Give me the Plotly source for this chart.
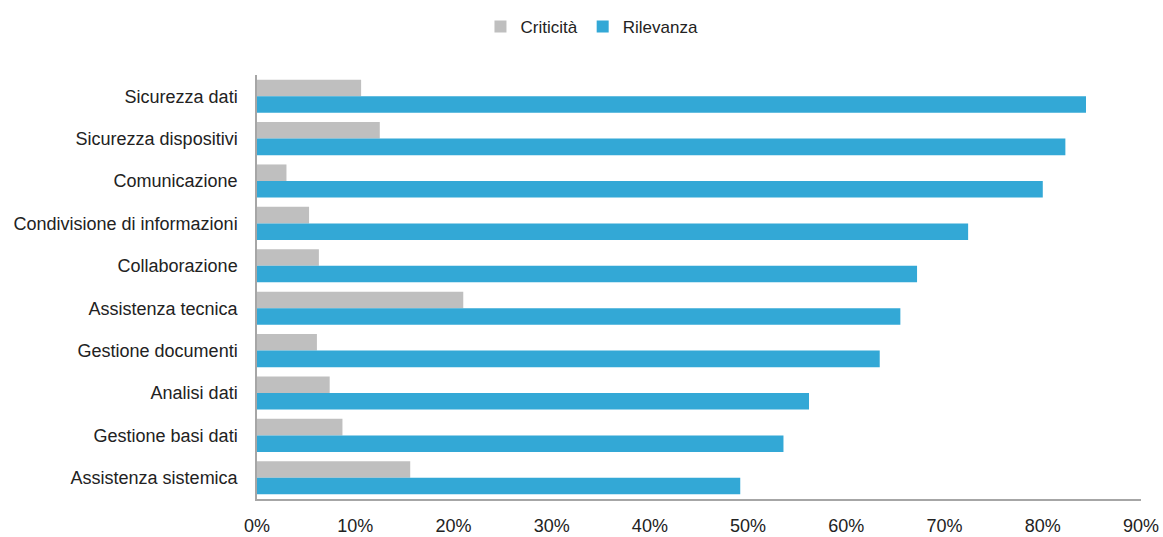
import plotly.graph_objects as go

# Categories, top to bottom as displayed
categorie = [
    "Sicurezza dati",
    "Sicurezza dispositivi",
    "Comunicazione",
    "Condivisione di informazioni",
    "Collaborazione",
    "Assistenza tecnica",
    "Gestione documenti",
    "Analisi dati",
    "Gestione basi dati",
    "Assistenza sistemica",
]

# Shares (fraction of respondents)
criticita = [0.106, 0.125, 0.030, 0.053, 0.063, 0.210, 0.061, 0.074, 0.087, 0.156]
rilevanza = [0.844, 0.823, 0.800, 0.724, 0.672, 0.655, 0.634, 0.562, 0.536, 0.492]

tick_vals = [0, 0.1, 0.2, 0.3, 0.4, 0.5, 0.6, 0.7, 0.8, 0.9]
tick_text = ["0%", "10%", "20%", "30%", "40%", "50%", "60%", "70%", "80%", "90%"]

FONT = "Liberation Sans, Arial, sans-serif"
GREY = "#BFBFBF"
BLUE = "#33A8D6"
TEXT = "#222222"

fig = go.Figure()
fig.add_trace(go.Bar(
    name="Criticità", y=categorie, x=criticita, orientation="h",
    marker=dict(color=GREY, line=dict(width=0)),
))
fig.add_trace(go.Bar(
    name="Rilevanza", y=categorie, x=rilevanza, orientation="h",
    marker=dict(color=BLUE, line=dict(width=0)),
))

fig.update_layout(
    width=1163, height=537,
    margin=dict(l=257, r=22, t=75, b=38, autoexpand=False),
    paper_bgcolor="white", plot_bgcolor="white",
    barmode="group", bargap=0.22, bargroupgap=0,
    font=dict(family=FONT, size=18, color=TEXT),
    showlegend=True,
    legend=dict(
        orientation="h", xref="container", yref="container",
        x=0.509, xanchor="center", y=0.95, yanchor="middle",
        font=dict(family=FONT, size=17, color=TEXT),
        itemwidth=30, traceorder="normal",
    ),
    xaxis=dict(
        range=[0, 0.9], tickvals=tick_vals, ticktext=tick_text,
        automargin=False,
        showgrid=False, zeroline=False,
        showline=True, linecolor="#A6A6A6", linewidth=1.5,
        ticks="outside", ticklen=10, tickcolor="rgba(0,0,0,0)",
        tickfont=dict(family=FONT, size=18, color=TEXT),
    ),
    yaxis=dict(
        categoryorder="array", categoryarray=categorie,
        autorange="reversed", automargin=False,
        showgrid=False, zeroline=False,
        showline=True, linecolor="#A6A6A6", linewidth=1.5,
        ticks="outside", ticklen=14, tickcolor="rgba(0,0,0,0)",
        tickfont=dict(family=FONT, size=18, color=TEXT),
    ),
)

fig.write_html("out.html")
